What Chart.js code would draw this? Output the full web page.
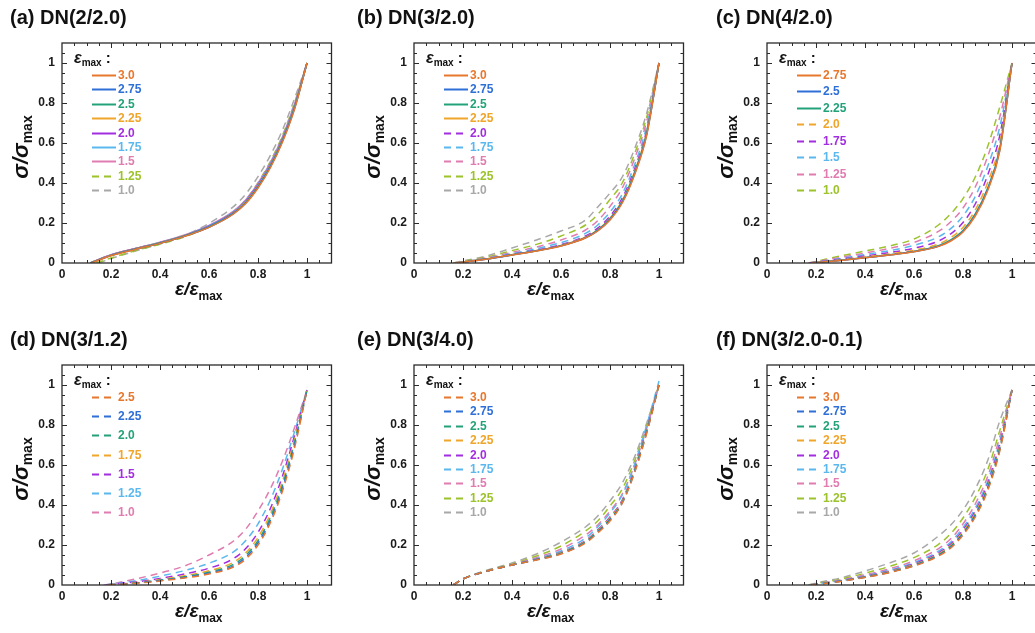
<!DOCTYPE html>
<html>
<head>
<meta charset="utf-8">
<script src="https://cdn.jsdelivr.net/npm/chart.js@4.4.1/dist/chart.umd.min.js"></script>
<style>
  body { margin: 0; background: #fff; width: 1035px; height: 633px; overflow: hidden; position: relative; }
  canvas { position: absolute; }
</style>
</head>
<body>
<canvas id="pa" width="345" height="318"></canvas>
<canvas id="pb" width="345" height="318"></canvas>
<canvas id="pc" width="345" height="318"></canvas>
<canvas id="pd" width="345" height="318"></canvas>
<canvas id="pe" width="345" height="318"></canvas>
<canvas id="pf" width="345" height="318"></canvas>
<script>
// strain positions (ε/εmax) shared by every curve; each curve also has its own start point at σ = 0
const gridX = [0.2, 0.3, 0.4, 0.5, 0.6, 0.7, 0.75, 0.8, 0.85, 0.9, 0.95, 1.0];
const xTicks = [0, 0.2, 0.4, 0.6, 0.8, 1];
const yTicks = [0, 0.2, 0.4, 0.6, 0.8, 1];
const colors = ['#e8772e', '#2f6fd8', '#23a27a', '#f0a52b', '#a22ee0', '#5bb8ee', '#e07cb0', '#9cc32b', '#a8a8a8'];

// (a) DN(2/2.0)
const epsA = ['3.0', '2.75', '2.5', '2.25', '2.0', '1.75', '1.5', '1.25', '1.0'];
const startA = [0.120, 0.118, 0.117, 0.116, 0.115, 0.115, 0.115, 0.14, 0.15];
const curvesA = [
  [.036, .068, .098, .133, .178, .245, .297, .375, .475, .605, .772, 1],
  [.037, .069, .099, .134, .179, .247, .300, .378, .479, .609, .776, 1],
  [.038, .070, .100, .135, .181, .249, .303, .382, .483, .613, .780, 1],
  [.039, .071, .101, .136, .182, .251, .306, .386, .487, .617, .784, 1],
  [.040, .072, .102, .137, .184, .253, .309, .390, .491, .621, .788, 1],
  [.040, .072, .103, .138, .186, .256, .312, .394, .496, .626, .792, 1],
  [.041, .073, .104, .140, .188, .259, .316, .399, .501, .631, .797, 1],
  [.025, .062, .094, .130, .182, .256, .316, .402, .507, .638, .804, 1],
  [.022, .060, .095, .138, .198, .282, .345, .432, .537, .665, .825, 1],
];

// (b) DN(3/2.0)
const epsB = ['3.0', '2.75', '2.5', '2.25', '2.0', '1.75', '1.5', '1.25', '1.0'];
const startB = [0.17, 0.17, 0.17, 0.17, 0.17, 0.17, 0.165, 0.16, 0.16];
const curvesB = [
  [.004, .020, .040, .060, .085, .125, .160, .215, .300, .440, .640, 1],
  [.004, .020, .040, .061, .086, .126, .162, .218, .304, .445, .645, 1],
  [.004, .021, .041, .061, .087, .127, .164, .221, .308, .450, .650, 1],
  [.005, .021, .041, .062, .088, .129, .166, .224, .312, .455, .655, 1],
  [.005, .022, .043, .065, .092, .135, .174, .234, .324, .468, .665, 1],
  [.005, .024, .047, .072, .102, .148, .190, .255, .345, .490, .685, 1],
  [.006, .027, .053, .080, .115, .165, .212, .283, .375, .520, .710, 1],
  [.008, .031, .062, .093, .135, .190, .243, .318, .400, .545, .730, 1],
  [.010, .036, .075, .115, .160, .215, .280, .350, .430, .570, .750, 1],
];

// (c) DN(4/2.0)
const epsC = ['2.75', '2.5', '2.25', '2.0', '1.75', '1.5', '1.25', '1.0'];
const startC = [0.18, 0.18, 0.18, 0.18, 0.175, 0.175, 0.17, 0.17];
const curvesC = [
  [.002, .013, .026, .040, .056, .083, .110, .155, .235, .360, .560, 1],
  [.002, .013, .026, .040, .057, .084, .112, .158, .239, .365, .565, 1],
  [.002, .014, .027, .041, .058, .086, .115, .162, .245, .372, .572, 1],
  [.003, .016, .030, .045, .064, .095, .127, .178, .265, .400, .600, 1],
  [.004, .019, .035, .052, .074, .110, .146, .202, .295, .437, .637, 1],
  [.005, .023, .042, .062, .088, .131, .172, .235, .333, .480, .680, 1],
  [.006, .028, .050, .073, .103, .158, .206, .275, .380, .530, .730, 1],
  [.008, .035, .060, .085, .120, .190, .246, .322, .430, .580, .780, 1],
];

// (d) DN(3/1.2)
const epsD = ['2.5', '2.25', '2.0', '1.75', '1.5', '1.25', '1.0'];
const startD = [0.19, 0.19, 0.19, 0.185, 0.18, 0.175, 0.17];
const curvesD = [
  [.001, .008, .020, .035, .055, .090, .130, .200, .310, .470, .690, .975],
  [.002, .009, .022, .038, .059, .096, .138, .210, .322, .484, .703, .975],
  [.002, .010, .024, .041, .064, .104, .148, .222, .336, .500, .717, .975],
  [.002, .012, .027, .046, .071, .114, .161, .238, .354, .519, .732, .975],
  [.003, .015, .033, .055, .084, .132, .182, .263, .381, .545, .750, .975],
  [.004, .021, .044, .072, .109, .166, .222, .306, .424, .580, .770, .975],
  [.005, .030, .060, .095, .150, .220, .280, .370, .480, .620, .790, .975],
];

// (e) DN(3/4.0)
const epsE = ['3.0', '2.75', '2.5', '2.25', '2.0', '1.75', '1.5', '1.25', '1.0'];
const startE = [0.16, 0.16, 0.16, 0.16, 0.16, 0.16, 0.16, 0.16, 0.16];
const curvesE = [
  [.030, .070, .100, .125, .155, .210, .260, .320, .410, .560, .760, 1],
  [.030, .070, .100, .126, .157, .213, .264, .325, .410, .565, .765, 1],
  [.030, .070, .100, .127, .159, .216, .268, .330, .415, .570, .770, 1],
  [.030, .070, .100, .128, .161, .219, .272, .335, .420, .575, .775, 1],
  [.030, .070, .100, .129, .163, .222, .276, .340, .425, .580, .780, 1],
  [.030, .070, .100, .132, .170, .235, .290, .360, .450, .600, .800, 1.02],
  [.030, .071, .102, .137, .180, .250, .300, .370, .455, .600, .785, 1],
  [.030, .073, .105, .145, .195, .270, .320, .395, .480, .620, .795, 1],
  [.030, .075, .110, .155, .215, .290, .345, .420, .510, .640, .810, 1],
];

// (f) DN(3/2.0-0.1)
const epsF = ['3.0', '2.75', '2.5', '2.25', '2.0', '1.75', '1.5', '1.25', '1.0'];
const startF = [0.18, 0.18, 0.18, 0.18, 0.18, 0.175, 0.175, 0.17, 0.17];
const curvesF = [
  [.003, .018, .038, .062, .095, .145, .185, .250, .340, .470, .670, .975],
  [.003, .019, .039, .063, .097, .148, .189, .255, .346, .477, .677, .975],
  [.003, .019, .040, .065, .099, .151, .193, .260, .352, .484, .684, .975],
  [.004, .020, .041, .067, .102, .155, .198, .266, .360, .492, .692, .975],
  [.004, .021, .043, .070, .106, .161, .205, .275, .370, .503, .703, .975],
  [.005, .022, .046, .074, .112, .169, .215, .287, .384, .518, .718, .975],
  [.006, .025, .051, .081, .121, .182, .231, .305, .405, .540, .740, .975],
  [.007, .029, .059, .093, .137, .203, .257, .335, .438, .573, .772, .975],
  [.010, .035, .070, .110, .160, .245, .300, .375, .480, .620, .820, .975],
];

const FONT = '"Liberation Sans", Arial, sans-serif';

// plot-frame origin of each panel on the page, and where its heading starts
const panels = [
  { id: 'pa', title: '(a) DN(2/2.0)', left: 62, top: 43, titleX: 10, eps: epsA, start: startA, curves: curvesA, solid: 7 },
  { id: 'pb', title: '(b) DN(3/2.0)', left: 414, top: 43, titleX: 357, eps: epsB, start: startB, curves: curvesB, solid: 4 },
  { id: 'pc', title: '(c) DN(4/2.0)', left: 767, top: 43, titleX: 716, eps: epsC, start: startC, curves: curvesC, solid: 3 },
  { id: 'pd', title: '(d) DN(3/1.2)', left: 62, top: 365, titleX: 10, eps: epsD, start: startD, curves: curvesD, solid: 0 },
  { id: 'pe', title: '(e) DN(3/4.0)', left: 414, top: 365, titleX: 357, eps: epsE, start: startE, curves: curvesE, solid: 0 },
  { id: 'pf', title: '(f) DN(3/2.0-0.1)', left: 767, top: 365, titleX: 716, eps: epsF, start: startF, curves: curvesF, solid: 0 },
];

// y axis box = 62 px to the left of the frame, x axis box = 55 px under it
const AXIS_W = 62, AXIS_H = 55;
const PAD = { left: 0, top: 43, right: 13.5, bottom: 0 };

// text made of runs with their own font and baseline shift (for subscripts)
function rich(ctx, runs, x, y, align) {
  let total = 0;
  runs.forEach(r => { ctx.font = r[1]; total += ctx.measureText(r[0]).width; });
  let cx = align === 'center' ? x - total / 2 : x;
  runs.forEach(r => {
    ctx.font = r[1];
    ctx.fillText(r[0], cx, y + (r[2] || 0));
    cx += ctx.measureText(r[0]).width;
  });
}

const decor = {
  id: 'decor',
  afterDraw(chart) {
    const o = chart.options.plugins.decor;
    const { ctx, chartArea: a } = chart;
    const x = chart.scales.x, y = chart.scales.y;
    ctx.save();

    // frame with inward ticks on all four sides
    ctx.strokeStyle = '#2b2b2b';
    ctx.lineWidth = 1.3;
    ctx.strokeRect(a.left, a.top, a.width, a.height);
    ctx.lineWidth = 1;
    ctx.beginPath();
    for (let k = 1; k < 22; k++) {
      const v = k * 0.05;
      const len = k % 4 === 0 ? 5 : 3;
      const px = Math.round(x.getPixelForValue(v)) + 0.5;
      const py = Math.round(y.getPixelForValue(v)) + 0.5;
      ctx.moveTo(px, a.bottom); ctx.lineTo(px, a.bottom - len);
      ctx.moveTo(px, a.top); ctx.lineTo(px, a.top + len);
      ctx.moveTo(a.left, py); ctx.lineTo(a.left + len, py);
      ctx.moveTo(a.right, py); ctx.lineTo(a.right - len, py);
    }
    ctx.stroke();

    ctx.fillStyle = '#111';
    ctx.textBaseline = 'middle';
    ctx.textAlign = 'left';
    ctx.font = 'bold 20px ' + FONT;
    ctx.fillText(o.title, o.titleX, a.top - 25);

    // axis titles
    ctx.textBaseline = 'alphabetic';
    rich(ctx, [['ε/ε', 'italic bold 19px ' + FONT], ['max', 'bold 12px ' + FONT, 5]],
      (a.left + a.right) / 2 + 2, a.bottom + 32, 'center');
    ctx.save();
    ctx.translate(a.left - 34, (a.top + a.bottom) / 2 - 6);
    ctx.rotate(-Math.PI / 2);
    rich(ctx, [['σ/σ', 'italic bold 22px ' + FONT], ['max', 'bold 14px ' + FONT, 4]], 0, 0, 'center');
    ctx.restore();

    // legend inside the frame
    rich(ctx, [['ε', 'italic bold 16px ' + FONT], ['max', 'bold 10px ' + FONT, 3], [' :', 'bold 15px ' + FONT]],
      a.left + 12, a.top + 20, 'left');
    const sets = chart.data.datasets;
    const step = 115 / (sets.length - 1);
    sets.forEach((ds, i) => {
      const yy = Math.round(a.top + 32 + i * step) + 0.5;
      ctx.strokeStyle = ds.borderColor;
      ctx.lineWidth = 2;
      ctx.setLineDash(ds.borderDash);
      ctx.beginPath();
      ctx.moveTo(a.left + 30, yy);
      ctx.lineTo(a.left + 54, yy);
      ctx.stroke();
      ctx.setLineDash([]);
      ctx.fillStyle = ds.borderColor;
      ctx.font = 'bold 12px ' + FONT;
      ctx.textBaseline = 'middle';
      ctx.fillText(ds.label, a.left + 56, yy);
    });
    ctx.restore();
  }
};

function tickFont() {
  return { family: FONT, weight: 'bold', size: 12 };
}

panels.forEach(p => {
  const canvas = document.getElementById(p.id);
  const offX = p.left - AXIS_W, offY = p.top - PAD.top;
  canvas.style.left = offX + 'px';
  canvas.style.top = offY + 'px';

  const datasets = p.eps.map((e, i) => ({
    label: e,
    data: [{ x: p.start[i], y: 0 }].concat(gridX.map((gx, j) => ({ x: gx, y: p.curves[i][j] }))),
    borderColor: colors[i],
    borderWidth: 1.5,
    borderDash: i < p.solid ? [] : [7, 5],
    pointRadius: 0,
    cubicInterpolationMode: 'monotone',
    fill: false,
  }));

  new Chart(canvas.getContext('2d'), {
    type: 'line',
    data: { datasets },
    plugins: [decor],
    options: {
      responsive: false,
      animation: false,
      events: [],
      layout: { padding: PAD },
      scales: {
        x: {
          type: 'linear', min: 0, max: 1.1,
          grid: { display: false, drawTicks: false }, border: { display: false },
          afterBuildTicks: s => { s.ticks = xTicks.map(v => ({ value: v })); },
          afterFit: s => { s.height = AXIS_H; s.paddingLeft = 0; s.paddingRight = 0; },
          ticks: { autoSkip: false, maxRotation: 0, padding: 4, color: '#1a1a1a', font: tickFont(), callback: v => String(v) },
        },
        y: {
          type: 'linear', min: 0, max: 1.1,
          grid: { display: false, drawTicks: false }, border: { display: false },
          afterBuildTicks: s => { s.ticks = yTicks.map(v => ({ value: v })); },
          afterFit: s => { s.width = AXIS_W; s.paddingTop = 0; s.paddingBottom = 0; },
          ticks: { autoSkip: false, padding: 7, color: '#1a1a1a', font: tickFont(), callback: v => String(v) },
        },
      },
      plugins: {
        legend: { display: false },
        tooltip: { enabled: false },
        decor: { title: p.title, titleX: p.titleX - offX },
      },
    },
  });
});
</script>
</body>
</html>
